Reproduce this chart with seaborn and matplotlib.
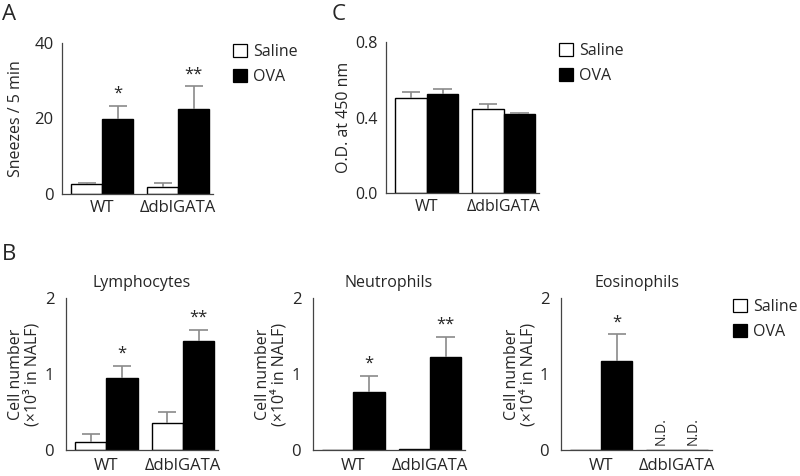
import numpy as np
import pandas as pd
import matplotlib
matplotlib.use("Agg")
import matplotlib.pyplot as plt
from matplotlib.patches import Patch
import seaborn as sns

# data (mean and upper error)
groups = ["WT", "ΔdblGATA"]
treatments = ["Saline", "OVA"]

sneeze_saline = [2.6, 1.9]
sneeze_saline_err = [0.4, 1.1]
sneeze_ova = [20.0, 22.5]
sneeze_ova_err = [3.4, 6.0]
sneeze_sig = ["", "*", "", "**"]

od_saline = [0.502, 0.445]
od_saline_err = [0.032, 0.025]
od_ova = [0.526, 0.420]
od_ova_err = [0.023, 0.004]
od_sig = ["", "", "", ""]

lym_saline = [0.10, 0.36]
lym_saline_err = [0.11, 0.14]
lym_ova = [0.95, 1.44]
lym_ova_err = [0.16, 0.135]
lym_sig = ["", "*", "", "**"]

neu_saline = [0.005, 0.01]
neu_saline_err = [0.0, 0.0]
neu_ova = [0.76, 1.23]
neu_ova_err = [0.21, 0.26]
neu_sig = ["", "*", "", "**"]

eos_saline = [0.0, 0.0]
eos_saline_err = [0.0, 0.0]
eos_ova = [1.17, 0.0]
eos_ova_err = [0.35, 0.0]
eos_sig = ["", "*", "", ""]
eos_nd = [False, False, True, True]

sns.set_style("white")
plt.rcParams["font.family"] = ["Open Sans", "DejaVu Sans"]
plt.rcParams["font.size"] = 10

colors = {"Saline": "white", "OVA": "black"}
spine_color = "#444444"
err_color = "#8a8a8a"


def make_frame(saline, ova, saline_err, ova_err):
    rows = []
    for i, g in enumerate(groups):
        rows.append((g, "Saline", saline[i], saline_err[i]))
        rows.append((g, "OVA", ova[i], ova_err[i]))
    return pd.DataFrame(rows, columns=["group", "treatment", "value", "err"])


def bar_panel(ax, df, ymax, yticks, yticklabels, ylabel, label_x, sig,
              tick_size=12, ypad=3.5, xpad=4, title=None, nd=None):
    sns.barplot(data=df, x="group", y="value", hue="treatment",
                order=groups, hue_order=treatments, palette=colors,
                edgecolor="black", linewidth=1, width=0.82, gap=0,
                errorbar=None, legend=False, saturation=1, ax=ax)
    bars = sorted(ax.patches, key=lambda p: p.get_x())
    for p, e, s in zip(bars, df["err"], sig):
        xc = p.get_x() + p.get_width() / 2
        cw = p.get_width() * 0.29
        top = p.get_height() + e
        if e > 0:
            # only the upper half of the error bar is shown
            ax.vlines(xc, p.get_height(), top, color=err_color, lw=1.2, zorder=1)
            ax.hlines(top, xc - cw, xc + cw, color=err_color, lw=1.2, zorder=1)
        if s:
            ax.annotate(s, (xc, top), xytext=(0, 3),
                        textcoords="offset points", ha="center", va="bottom",
                        fontsize=12)
    if nd is not None:
        for p, flag in zip(bars, nd):
            if flag:
                ax.text(p.get_x() + p.get_width() / 2, ymax * 0.03, "N.D.",
                        rotation=90, ha="center", va="bottom", fontsize=10)
    ax.set_xlim(-0.53, 1.46)
    ax.set_ylim(0, ymax)
    ax.set_yticks(yticks)
    ax.set_yticklabels(yticklabels)
    ax.set_xlabel("")
    ax.set_ylabel(ylabel, linespacing=1.0, fontsize=11.5)
    ax.yaxis.set_label_coords(label_x, 0.5)
    ax.tick_params(axis="y", length=2.5, width=0.8, color=spine_color,
                   labelsize=tick_size, pad=ypad)
    ax.tick_params(axis="x", length=0, labelsize=tick_size, pad=xpad)
    sns.despine(ax=ax)
    for side in ["left", "bottom"]:
        ax.spines[side].set_color(spine_color)
        ax.spines[side].set_linewidth(0.9)
    if title:
        ax.set_title(title, fontsize=11.5, pad=8)


def add_legend(fig, x, y):
    handles = [Patch(facecolor=colors[t], edgecolor="black", linewidth=0.9)
               for t in treatments]
    fig.legend(handles, treatments, loc="upper left", bbox_to_anchor=(x, y),
               frameon=False, handlelength=0.9, handleheight=0.9,
               handletextpad=0.35, labelspacing=0.55, borderpad=0,
               borderaxespad=0, fontsize=11.5)


W, H = 800, 476
fig = plt.figure(figsize=(W / 100, H / 100), dpi=100)


def axes_px(x0, x1, y0, y1):
    return fig.add_axes([x0 / W, 1 - y1 / H, (x1 - x0) / W, (y1 - y0) / H])


ax_a = axes_px(62, 213, 43, 194)
bar_panel(ax_a, make_frame(sneeze_saline, sneeze_ova, sneeze_saline_err, sneeze_ova_err),
          40, [0, 20, 40], ["0", "20", "40"], "Sneezes / 5 min", -0.25, sneeze_sig)
add_legend(fig, 233 / W, 1 - 44 / H)

ax_c = axes_px(386, 539, 42, 193)
bar_panel(ax_c, make_frame(od_saline, od_ova, od_saline_err, od_ova_err),
          0.8, [0, 0.4, 0.8], ["0.0", "0.4", "0.8"], "O.D. at 450 nm", -0.22,
          od_sig, tick_size=11.5)
add_legend(fig, 559 / W, 1 - 43 / H)

ax_l = axes_px(66, 218, 298, 450)
bar_panel(ax_l, make_frame(lym_saline, lym_ova, lym_saline_err, lym_ova_err),
          2, [0, 1, 2], ["0", "1", "2"], "Cell number\n(×10³ in NALF)", -0.17,
          lym_sig, ypad=6, xpad=6, title="Lymphocytes")

ax_n = axes_px(313, 465, 298, 450)
bar_panel(ax_n, make_frame(neu_saline, neu_ova, neu_saline_err, neu_ova_err),
          2, [0, 1, 2], ["0", "1", "2"], "Cell number\n(×10⁴ in NALF)", -0.17,
          neu_sig, ypad=6, xpad=6, title="Neutrophils")

ax_e = axes_px(561, 712, 298, 450)
bar_panel(ax_e, make_frame(eos_saline, eos_ova, eos_saline_err, eos_ova_err),
          2, [0, 1, 2], ["0", "1", "2"], "Cell number\n(×10⁴ in NALF)", -0.16,
          eos_sig, ypad=6, xpad=6, title="Eosinophils", nd=eos_nd)
add_legend(fig, 733 / W, 1 - 299 / H)

for letter, x, y in [("A", 2, 4), ("C", 332, 4), ("B", 2, 244)]:
    fig.text(x / W, 1 - y / H, letter, fontsize=16, ha="left", va="top")

fig.savefig("out.png", dpi=100)
